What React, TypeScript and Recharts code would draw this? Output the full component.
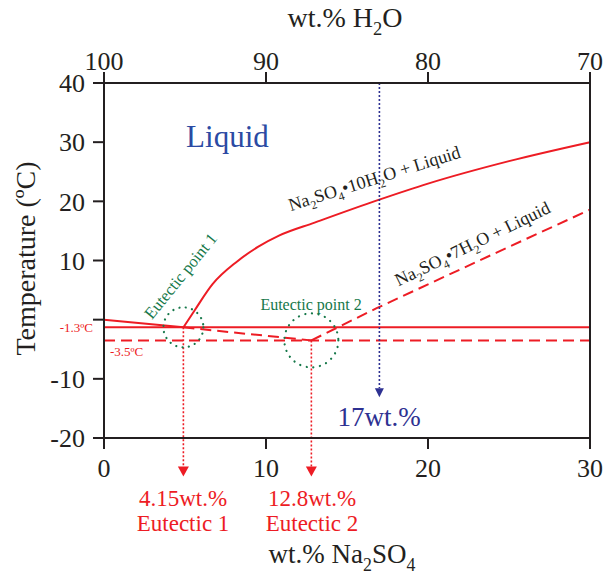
import React from "react";
import { ComposedChart, Line, XAxis, YAxis, ReferenceLine, ReferenceDot } from "recharts";

const SERIF = '"Liberation Serif", "Times New Roman", serif';
const INK = "#231f20";
const RED = "#ed1c24";
const GREEN = "#16784a";
const NAVY = "#2e3192";
const LIQUID_BLUE = "#2b4aa3";

// axes
const naSo4Ticks = [0, 10, 20, 30];
const tempTicks = [-20, -10, 0, 10, 20, 30, 40];

// phase boundaries (x = wt.% Na2SO4, t = °C)
const iceLiquidus = [
  { x: 0, t: 0 },
  { x: 4.9, t: -1.3 },
];
const metastableIce = [
  { x: 4.9, t: -1.3 },
  { x: 12.8, t: -3.5 },
];
const mirabilite = [
  { x: 4.9, t: -1.3 },
  { x: 5.6, t: 1.6 },
  { x: 6.7, t: 6.0 },
  { x: 8.2, t: 9.8 },
  { x: 9.5, t: 12.3 },
  { x: 10.8, t: 14.2 },
  { x: 13, t: 16.4 },
  { x: 16.9, t: 20.2 },
  { x: 20, t: 23.0 },
  { x: 25, t: 26.8 },
  { x: 30, t: 30.0 },
];
const heptahydrate = [
  { x: 12.8, t: -3.5 },
  { x: 16.8, t: 1.9 },
  { x: 24.2, t: 11.3 },
  { x: 30, t: 18.6 },
];

const eutectic1 = { x: 4.9, t: -1.3 };
const eutectic2 = { x: 12.8, t: -3.5 };
const bulkComposition = 17;
const arrowBottom = -26.5;
const bulkArrowBottom = -13.1;

type Piece = string | { sub: string };

const chem = (parts: Piece[], size: number) => {
  const shift = size * 0.28;
  let down = false;
  return parts.map((p, i) => {
    if (typeof p === "string") {
      const el = (
        <tspan key={i} dy={down ? -shift : 0}>
          {p}
        </tspan>
      );
      down = false;
      return el;
    }
    down = true;
    return (
      <tspan key={i} dy={shift} fontSize={size * 0.66}>
        {p.sub}
      </tspan>
    );
  });
};

type NoteOpts = { size: number; color: string; angle?: number; anchor?: "start" | "middle" | "end" };

const note = (body: React.ReactNode, o: NoteOpts) => (props: any) => {
  const vb = props.viewBox || {};
  const x = vb.x + (vb.width || 0) / 2;
  const y = vb.y + (vb.height || 0) / 2;
  return (
    <text
      x={x}
      y={y}
      fill={o.color}
      fontSize={o.size}
      fontFamily={SERIF}
      textAnchor={o.anchor ?? "middle"}
      transform={o.angle ? `rotate(${o.angle} ${x} ${y})` : undefined}
    >
      {body}
    </text>
  );
};

const arrow = (color: string, head: number, width: number) => (props: any) => {
  const { x1, y1, x2, y2 } = props;
  return (
    <g>
      <line x1={x1} y1={y1} x2={x2} y2={y2 - head} stroke={color} strokeWidth={1.6} strokeDasharray="2 2" />
      <polygon points={`${x2 - width / 2},${y2 - head} ${x2 + width / 2},${y2 - head} ${x2},${y2}`} fill={color} />
    </g>
  );
};

const axisLine = { stroke: INK, strokeWidth: 2 };
const tickFont = { fontSize: 26, fill: INK, fontFamily: SERIF };

export default function App() {
  return (
    <div style={{ position: "absolute", left: 0, top: 0 }}>
      <ComposedChart width={614} height={575} margin={{ top: 43, right: 14, bottom: 107, left: 44 }}>
        <XAxis
          dataKey="x"
          type="number"
          domain={[0, 30]}
          ticks={naSo4Ticks}
          height={30}
          tickSize={11}
          tickMargin={10}
          axisLine={axisLine}
          tickLine={axisLine}
          tick={tickFont}
          label={(p: any) => (
            <text
              x={p.viewBox.x + p.viewBox.width / 2 - 5}
              y={p.viewBox.y + 125}
              textAnchor="middle"
              fontSize={27}
              fontFamily={SERIF}
              fill={INK}
            >
              {chem(["wt.% Na", { sub: "2" }, "SO", { sub: "4" }], 27)}
            </text>
          )}
        />
        <XAxis
          xAxisId="top"
          orientation="top"
          dataKey="x"
          type="number"
          domain={[0, 30]}
          ticks={naSo4Ticks}
          tickFormatter={(v: number) => String(100 - v)}
          height={40}
          tickSize={11}
          tickMargin={2}
          axisLine={axisLine}
          tickLine={axisLine}
          tick={tickFont}
          label={(p: any) => (
            <text
              x={p.viewBox.x + p.viewBox.width / 2 - 2}
              y={p.viewBox.y - 16}
              textAnchor="middle"
              fontSize={28}
              fontFamily={SERIF}
              fill={INK}
            >
              {chem(["wt.% H", { sub: "2" }, "O"], 28)}
            </text>
          )}
        />
        <YAxis
          type="number"
          domain={[-20, 40]}
          ticks={tempTicks}
          tickFormatter={(v: number) => (v === 0 ? "" : String(v))}
          width={60}
          tickSize={11}
          tickMargin={8}
          axisLine={axisLine}
          tickLine={axisLine}
          tick={tickFont}
          label={(p: any) => {
            const x = p.viewBox.x - 9;
            const y = p.viewBox.y + p.viewBox.height / 2 - 2;
            return (
              <text
                x={x}
                y={y}
                textAnchor="middle"
                fontSize={28}
                fontFamily={SERIF}
                fill={INK}
                transform={`rotate(-90 ${x} ${y})`}
              >
                Temperature (ºC)
              </text>
            );
          }}
        />
        <YAxis
          yAxisId="right"
          orientation="right"
          type="number"
          domain={[-20, 40]}
          ticks={tempTicks}
          width={10}
          tickSize={11}
          axisLine={axisLine}
          tickLine={axisLine}
          tickFormatter={() => ""}
        />

        <ReferenceLine y={-1.3} stroke={RED} strokeWidth={2} />
        <ReferenceLine y={-3.5} stroke={RED} strokeWidth={2} strokeDasharray="11 6" />

        <Line data={iceLiquidus} dataKey="t" type="linear" stroke={RED} strokeWidth={2} dot={false} isAnimationActive={false} />
        <Line data={metastableIce} dataKey="t" type="linear" stroke={RED} strokeWidth={2} strokeDasharray="11 6" dot={false} isAnimationActive={false} />
        <Line data={mirabilite} dataKey="t" type="monotone" stroke={RED} strokeWidth={2} dot={false} isAnimationActive={false} />
        <Line
          xAxisId="top"
          data={heptahydrate}
          dataKey="t"
          type="linear"
          stroke={RED}
          strokeWidth={2}
          strokeDasharray="11 6"
          dot={false}
          isAnimationActive={false}
        />

        <ReferenceDot x={eutectic1.x} y={eutectic1.t} r={20} fill="none" stroke={GREEN} strokeWidth={2.2} strokeDasharray="0.1 6.3" strokeLinecap="round" ifOverflow="visible" />
        <ReferenceDot x={eutectic2.x} y={eutectic2.t} r={27} fill="none" stroke={GREEN} strokeWidth={2.2} strokeDasharray="0.1 6.6" strokeLinecap="round" ifOverflow="visible" />

        <ReferenceLine
          segment={[{ x: eutectic1.x, y: eutectic1.t }, { x: eutectic1.x, y: arrowBottom }]}
          ifOverflow="visible"
          shape={arrow(RED, 10, 11)}
        />
        <ReferenceLine
          segment={[{ x: eutectic2.x, y: eutectic2.t }, { x: eutectic2.x, y: arrowBottom }]}
          ifOverflow="visible"
          shape={arrow(RED, 10, 11)}
        />
        <ReferenceLine
          segment={[{ x: bulkComposition, y: 40 }, { x: bulkComposition, y: bulkArrowBottom }]}
          ifOverflow="visible"
          shape={arrow(NAVY, 9, 9)}
        />

        <ReferenceDot x={7.62} y={29.2} r={0} ifOverflow="visible" label={note("Liquid", { size: 31, color: LIQUID_BLUE })} />
        <ReferenceDot
          x={16.8}
          y={22.9}
          r={0}
          ifOverflow="visible"
          label={note(chem(["Na", { sub: "2" }, "SO", { sub: "4" }, "•10H", { sub: "2" }, "O + Liquid"], 18), { size: 18, color: INK, angle: -17.5 })}
        />
        <ReferenceDot
          x={22.9}
          y={11.9}
          r={0}
          ifOverflow="visible"
          label={note(chem(["Na", { sub: "2" }, "SO", { sub: "4" }, "•7H", { sub: "2" }, "O + Liquid"], 18), { size: 18, color: INK, angle: -26 })}
        />
        <ReferenceDot x={5.0} y={6.8} r={0} ifOverflow="visible" label={note("Eutectic point 1", { size: 16.5, color: GREEN, angle: -51 })} />
        <ReferenceDot x={12.78} y={1.55} r={0} ifOverflow="visible" label={note("Eutectic point 2", { size: 16, color: GREEN })} />
        <ReferenceDot x={-0.68} y={-2.0} r={0} ifOverflow="visible" label={note("-1.3ºC", { size: 13, color: RED, anchor: "end" })} />
        <ReferenceDot x={0.37} y={-6.1} r={0} ifOverflow="visible" label={note("-3.5ºC", { size: 13, color: RED, anchor: "start" })} />
        <ReferenceDot x={16.98} y={-18} r={0} ifOverflow="visible" label={note("17wt.%", { size: 27, color: NAVY })} />
        <ReferenceDot x={4.88} y={-31.5} r={0} ifOverflow="visible" label={note("4.15wt.%", { size: 23, color: RED })} />
        <ReferenceDot x={4.88} y={-35.8} r={0} ifOverflow="visible" label={note("Eutectic 1", { size: 23, color: RED })} />
        <ReferenceDot x={12.84} y={-31.5} r={0} ifOverflow="visible" label={note("12.8wt.%", { size: 23, color: RED })} />
        <ReferenceDot x={12.84} y={-35.8} r={0} ifOverflow="visible" label={note("Eutectic 2", { size: 23, color: RED })} />
      </ComposedChart>
    </div>
  );
}
